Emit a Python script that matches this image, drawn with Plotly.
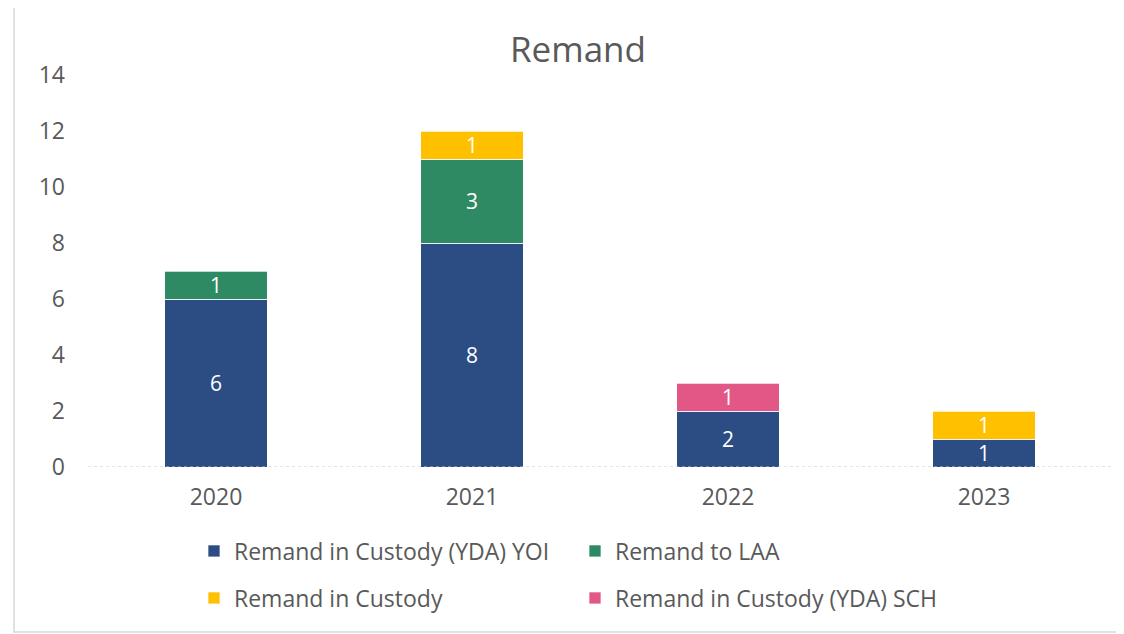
import plotly.graph_objects as go

years = ["2020", "2021", "2022", "2023"]
yoi = [6, 8, 2, 1]
laa = [1, 3, None, None]
custody = [None, 1, None, 1]
sch = [None, None, 1, None]
y_ticks = [0, 2, 4, 6, 8, 10, 12, 14]

series = [
    ("Remand in Custody (YDA) YOI", yoi, "#2C4C84", "legend"),
    ("Remand to LAA", laa, "#2E8A63", "legend"),
    ("Remand in Custody", custody, "#FFC000", "legend2"),
    ("Remand in Custody (YDA) SCH", sch, "#E25785", "legend2"),
]

FONT = "Open Sans"
GREY = "#595959"

fig = go.Figure()
for name, vals, col, lg in series:
    fig.add_trace(go.Bar(
        x=years, y=vals, name=name,
        marker=dict(color=col, line=dict(color="white", width=0.7)),
        text=[("" if v is None else str(v)) for v in vals],
        textposition="inside", insidetextanchor="middle", textangle=0,
        constraintext="none", cliponaxis=False,
        textfont=dict(color="white", size=21, family=FONT),
        width=0.4, legend=lg, hoverinfo="skip",
    ))

# page has an 8px body offset; work in page coordinates and convert
OFF = 8
W, H = 1124 - OFF, 634 - OFF
plot_left, plot_right, plot_top, plot_bottom = 88, 1112, 75, 467
L = plot_left - OFF
R = W - (plot_right - OFF)
T = plot_top - OFF
B = H - (plot_bottom - OFF)
pw, ph = W - L - R, H - T - B

def px_x(p):
    return (p - plot_left) / pw

def px_y(p):
    return (plot_bottom - p) / ph

fig.update_layout(
    width=W, height=H,
    margin=dict(l=L, r=R, t=T, b=B, autoexpand=False),
    barmode="stack",
    uniformtext=dict(minsize=21, mode="show"),
    paper_bgcolor="white", plot_bgcolor="white",
    font=dict(family=FONT, color=GREY, size=23),
    title=dict(text="Remand", x=(578 - OFF) / W, xanchor="center",
               y=1 - (50 - OFF) / H, yanchor="middle",
               font=dict(size=35, color=GREY, family=FONT)),
    xaxis=dict(range=[-0.5, 3.5], showgrid=False, zeroline=False, showline=False,
               tickfont=dict(size=23, color=GREY), ticks="", ticklabelstandoff=14),
    yaxis=dict(range=[0, 14], tickvals=y_ticks, showgrid=False, zeroline=False, showline=False,
               tickfont=dict(size=23, color=GREY), ticks="", ticklabelstandoff=22),
    legend=dict(orientation="h", x=px_x(194), xanchor="left", y=px_y(551), yanchor="middle",
                traceorder="normal", entrywidth=336,
                font=dict(size=23, color=GREY), bgcolor="rgba(0,0,0,0)"),
    legend2=dict(orientation="h", x=px_x(194), xanchor="left", y=px_y(598), yanchor="middle",
                 traceorder="normal", entrywidth=336,
                 font=dict(size=23, color=GREY), bgcolor="rgba(0,0,0,0)"),
    showlegend=True,
    shapes=[
        dict(type="rect", xref="paper", yref="paper",
             x0=px_x(14), x1=px_x(1120), y0=px_y(632), y1=px_y(7),
             line=dict(color="#D9D9D9", width=1.5), fillcolor="rgba(0,0,0,0)", layer="below"),
        dict(type="line", xref="paper", yref="y", x0=0, x1=1, y0=0, y1=0,
             line=dict(color="#C8C8C8", width=1.2, dash="dot"), layer="above"),
    ],
)

fig.write_html("out.html")
